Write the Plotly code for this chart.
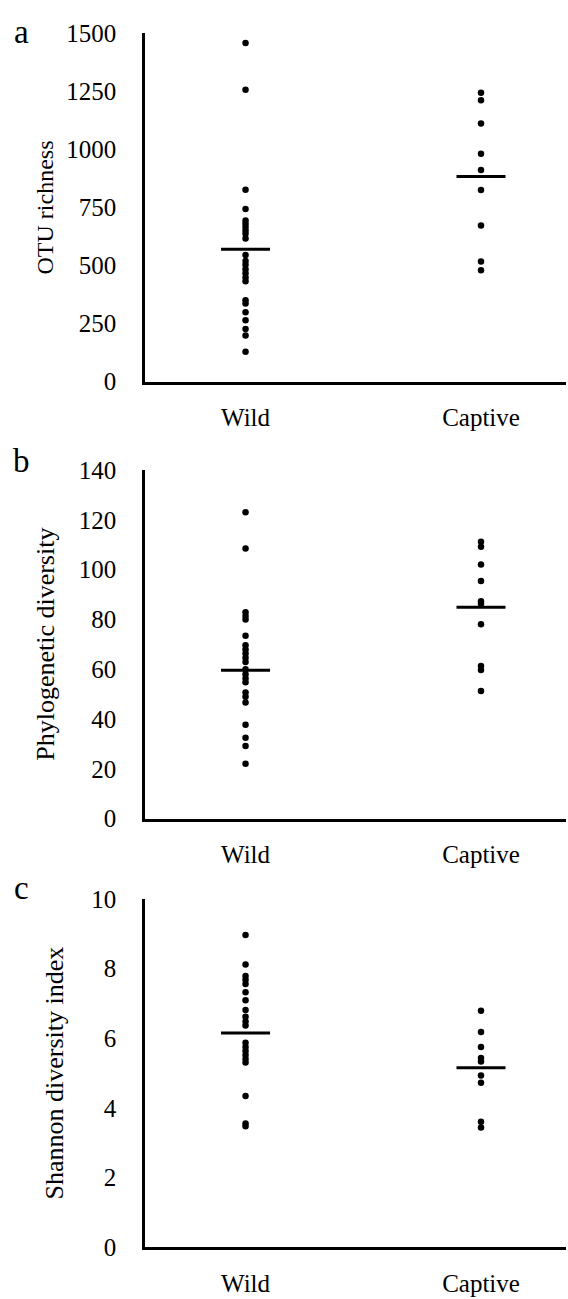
import plotly.graph_objects as go

# ---- data -------------------------------------------------------------
groups = ["Wild", "Captive"]
group_pos = [1, 2]

otu_wild = [1458, 1257, 826, 743, 694, 680, 666, 651, 637, 616, 545, 520,
            503, 484, 467, 449, 432, 351, 337, 299, 264, 227, 199, 129]
otu_captive = [1244, 1212, 1111, 981, 911, 825, 672, 517, 480]
otu_means = [570, 883]
otu_ticks = [0, 250, 500, 750, 1000, 1250, 1500]

pd_wild = [123.0, 108.5, 82.9, 81.4, 80.0, 73.4, 69.6, 67.9, 66.3, 64.6, 62.9,
           60.0, 58.0, 56.3, 54.8, 50.6, 48.9, 46.6, 37.7, 32.5, 29.2, 22.0]
pd_captive = [111.2, 109.2, 102.0, 95.4, 87.3, 86.3, 78.1, 61.3, 59.7, 51.2]
pd_means = [59.6, 84.9]
pd_ticks = [0, 20, 40, 60, 80, 100, 120, 140]

sh_wild = [8.97, 8.12, 7.79, 7.68, 7.56, 7.32, 7.09, 6.81, 6.62, 6.48, 6.37,
           5.87, 5.75, 5.63, 5.52, 5.40, 5.30, 4.34, 3.55, 3.47]
sh_captive = [6.79, 6.18, 5.75, 5.43, 5.33, 4.93, 4.72, 3.60, 3.43]
sh_means = [6.15, 5.15]
sh_ticks = [0, 2, 4, 6, 8, 10]

# ---- layout geometry (pixels) ------------------------------------------
W, H = 568, 1299
FONT = "Liberation Serif, Times New Roman, serif"
INK = "#000000"

panels = [
    dict(letter="a", title="OTU richness", wild=otu_wild, captive=otu_captive,
         means=otu_means, ticks=otu_ticks, top=20.7, bottom=376.5,
         title_x=45, title_size=24, letter_y=19),
    dict(letter="b", title="Phylogenetic diversity", wild=pd_wild, captive=pd_captive,
         means=pd_means, ticks=pd_ticks, top=466.7, bottom=822.7,
         title_x=45.5, title_size=26, letter_y=457),
    dict(letter="c", title="Shannon diversity index", wild=sh_wild, captive=sh_captive,
         means=sh_means, ticks=sh_ticks, top=905, bottom=1260,
         title_x=53.5, title_size=26, letter_y=894),
]

x_left_px, x_right_px = 145, 566
x_range = [0.573, 2.361]

fig = go.Figure()
annotations = []

for i, p in enumerate(panels, start=1):
    sfx = "" if i == 1 else str(i)
    xa, ya = "x" + sfx, "y" + sfx

    for pos, vals in zip(group_pos, [p["wild"], p["captive"]]):
        fig.add_trace(go.Scatter(
            x=[pos] * len(vals), y=vals, mode="markers",
            marker=dict(color=INK, size=6.5, line=dict(width=0)),
            xaxis=xa, yaxis=ya, showlegend=False, hoverinfo="y"))

    # group mean bars
    fig.add_trace(go.Scatter(
        x=group_pos, y=p["means"], mode="markers",
        marker=dict(symbol="line-ew", size=35, color=INK,
                    line=dict(color=INK, width=3)),
        xaxis=xa, yaxis=ya, showlegend=False, hoverinfo="y"))

    ydom = [1 - p["bottom"] / H, 1 - p["top"] / H]
    fig.layout["xaxis" + sfx] = dict(
        domain=[x_left_px / W, x_right_px / W], anchor=ya, range=x_range,
        tickmode="array", tickvals=group_pos, ticktext=groups,
        showline=True, linecolor=INK, linewidth=2.5, showgrid=False,
        zeroline=False, ticks="outside", ticklen=12, tickcolor="rgba(0,0,0,0)",
        tickfont=dict(family=FONT, size=25, color=INK), fixedrange=True)
    fig.layout["yaxis" + sfx] = dict(
        domain=ydom, anchor=xa, range=[p["ticks"][0], p["ticks"][-1]],
        tickmode="array", tickvals=p["ticks"],
        showline=True, linecolor=INK, linewidth=2.5, showgrid=False,
        zeroline=False, ticks="outside", ticklen=21, tickcolor="rgba(0,0,0,0)",
        tickfont=dict(family=FONT, size=25, color=INK), fixedrange=True)

    annotations.append(dict(
        text=p["title"], textangle=-90, xref="paper", yref="paper",
        x=p["title_x"] / W, y=1 - (p["top"] + p["bottom"]) / 2 / H,
        xanchor="center", yanchor="middle", showarrow=False,
        font=dict(family=FONT, size=p["title_size"], color=INK)))
    annotations.append(dict(
        text=p["letter"], xref="paper", yref="paper",
        x=21 / W, y=1 - p["letter_y"] / H, xanchor="center", yanchor="middle",
        showarrow=False, font=dict(family=FONT, size=33, color=INK)))

fig.update_layout(
    width=W, height=H, margin=dict(l=0, r=0, t=0, b=0),
    paper_bgcolor="white", plot_bgcolor="white",
    font=dict(family=FONT, color=INK), annotations=annotations,
)

fig.write_html("out.html", config={"displayModeBar": False})
